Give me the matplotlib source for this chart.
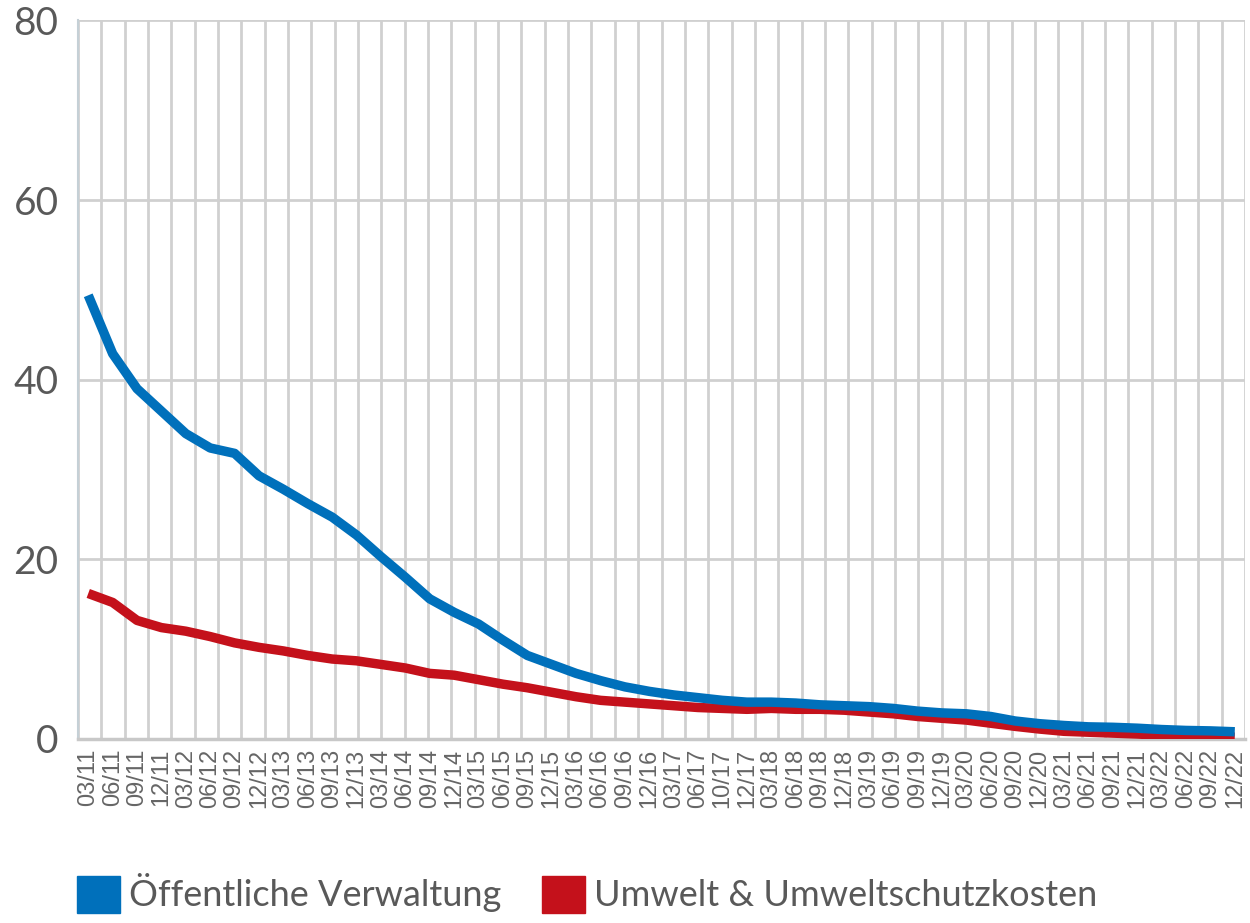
import numpy as np
import matplotlib.pyplot as plt
from matplotlib.patches import Patch

# Quartale
quartale = ["03/11", "06/11", "09/11", "12/11", "03/12", "06/12", "09/12", "12/12",
            "03/13", "06/13", "09/13", "12/13", "03/14", "06/14", "09/14", "12/14",
            "03/15", "06/15", "09/15", "12/15", "03/16", "06/16", "09/16", "12/16",
            "03/17", "06/17", "10/17", "12/17", "03/18", "06/18", "09/18", "12/18",
            "03/19", "06/19", "09/19", "12/19", "03/20", "06/20", "09/20", "12/20",
            "03/21", "06/21", "09/21", "12/21", "03/22", "06/22", "09/22", "12/22"]

verwaltung = [49.4, 42.9, 39.0, 36.5, 34.0, 32.4, 31.8, 29.3, 27.8, 26.2, 24.7, 22.7,
              20.3, 18.0, 15.6, 14.1, 12.8, 11.0, 9.3, 8.3, 7.3, 6.5, 5.8, 5.3,
              4.9, 4.6, 4.3, 4.1, 4.1, 4.0, 3.8, 3.7, 3.6, 3.4, 3.1, 2.9,
              2.8, 2.5, 2.0, 1.7, 1.5, 1.35, 1.3, 1.2, 1.05, 0.95, 0.9, 0.8]

umwelt = [16.2, 15.2, 13.2, 12.4, 12.0, 11.4, 10.7, 10.2, 9.8, 9.3, 8.9, 8.7,
          8.3, 7.9, 7.3, 7.1, 6.6, 6.1, 5.7, 5.2, 4.7, 4.3, 4.1, 3.9,
          3.7, 3.5, 3.4, 3.3, 3.4, 3.3, 3.3, 3.2, 3.0, 2.8, 2.5, 2.3,
          2.1, 1.75, 1.4, 1.1, 0.85, 0.75, 0.65, 0.55, 0.4, 0.3, 0.25, 0.2]

blau = "#0070bb"
rot = "#c4111b"
grau_text = "#595959"
grau_gitter = "#d0d0d0"

fig = plt.figure(figsize=(12.5, 9.23), dpi=100)
ax = fig.add_axes([0.0624, 0.1994, 0.9336, 0.7784])

x = np.arange(len(quartale))
ax.plot(x, umwelt, color=rot, lw=6.8, solid_capstyle="butt", zorder=3)
ax.plot(x, verwaltung, color=blau, lw=6.8, solid_capstyle="butt", zorder=4)

ax.set_ylim(0, 80)
ax.set_yticks([0, 20, 40, 60, 80])
ax.set_xlim(-0.42, len(quartale) - 1 + 0.42)

# Gitterlinien: 50 gleich breite Spalten
lo, hi = ax.get_xlim()
ax.set_xticks(np.linspace(lo, hi, 51), minor=True)
ax.set_xticks(x)
ax.set_xticklabels(quartale, rotation=90, fontsize=17, color="#666666",
                   family="Liberation Sans")
ax.tick_params(axis="x", which="both", length=0, pad=7)
ax.tick_params(axis="y", length=0, pad=14, labelsize=28, labelcolor=grau_text)
for lab in ax.get_yticklabels():
    lab.set_family("Lato")

ax.grid(axis="x", which="minor", color=grau_gitter, lw=2)
ax.grid(axis="y", which="major", color=grau_gitter, lw=2)
ax.grid(axis="x", which="major", visible=False)
ax.set_axisbelow(True)

for s in ["top", "right"]:
    ax.spines[s].set_visible(False)
ax.spines["left"].set_color("#c5d0d6")
ax.spines["left"].set_linewidth(1.5)
ax.spines["bottom"].set_color("#c8c8c8")
ax.spines["bottom"].set_linewidth(2.5)

handles = [Patch(color=blau, label="Öffentliche Verwaltung"),
           Patch(color=rot, label="Umwelt & Umweltschutzkosten")]
leg = fig.legend(handles=handles, loc="lower left", bbox_to_anchor=(0.0356, -0.024),
                 ncol=2, frameon=False, handlelength=1.19,
                 handleheight=1.2, handletextpad=0.25, columnspacing=1.12,
                 prop={"family": "Lato", "size": 26})
for t in leg.get_texts():
    t.set_color(grau_text)

fig.savefig("out.png", dpi=100)
